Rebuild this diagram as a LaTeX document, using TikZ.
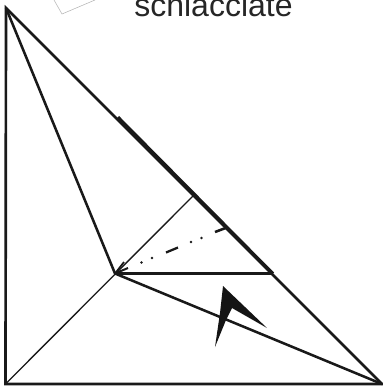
\documentclass[tikz,border=0pt]{standalone}
\usepackage{fontspec}
\setmainfont{Liberation Sans}
\tikzset{px/.style={x=0.75pt,y=-0.75pt},
 heavy/.style={line width=2pt,draw=black!90},
 med/.style={line width=1.9pt,draw=black!90},
 thin1/.style={line width=1pt,draw=black!90},
 faint/.style={line width=0.4pt,draw=black!30},
 label/.style={inner sep=0pt,anchor=base,text=black!85,font=\fontsize{24}{27}\selectfont}}
\begin{document}
\begin{tikzpicture}[px]
\useasboundingbox (0,0) rectangle (383,387);
\begin{scope}
\clip (0,0) rectangle (383,387);
\coordinate (tl) at (6,8);
\coordinate (bl) at (5.5,384);
\coordinate (br) at (382,384);
\coordinate (c) at (115,273.5);
\coordinate (h) at (193,196);
\coordinate (m) at (273,273.5);
\coordinate (q) at (118,117);
\coordinate (qq) at (227,227.5);
\draw[faint] (54,0) -- (62,14) -- (95,0);
\node[label] (t) at (213.5,16) {schiacciate};
\draw[heavy,line join=miter] (br) -- (bl) -- (tl) -- cycle;
\draw[med] (tl) -- (c) -- (br);
\draw[thin1] (bl) -- (h);
\draw[med] (c) -- (m);
\draw[line width=2.15pt,draw=black!90] (q) -- (m);
\draw[med] (qq) -- (215,232);
\draw[med,line width=1.7pt] (178,247.5) -- (166,252.5);
\fill[black!90] (201.5,238) circle (1.4) (191,242) circle (1.4) (152,258) circle (1.4) (141.5,262.5) circle (1.4);
\draw[med,line width=1.5pt] (128,268) -- (c);
\draw[med,line width=1.3pt] (124,262) -- (c);
\fill[black!92] (223,286) -- (267,328) -- (232,308) -- (226,320) -- (215,347) -- (220,313) -- cycle;
\end{scope}
\end{tikzpicture}
\end{document}
